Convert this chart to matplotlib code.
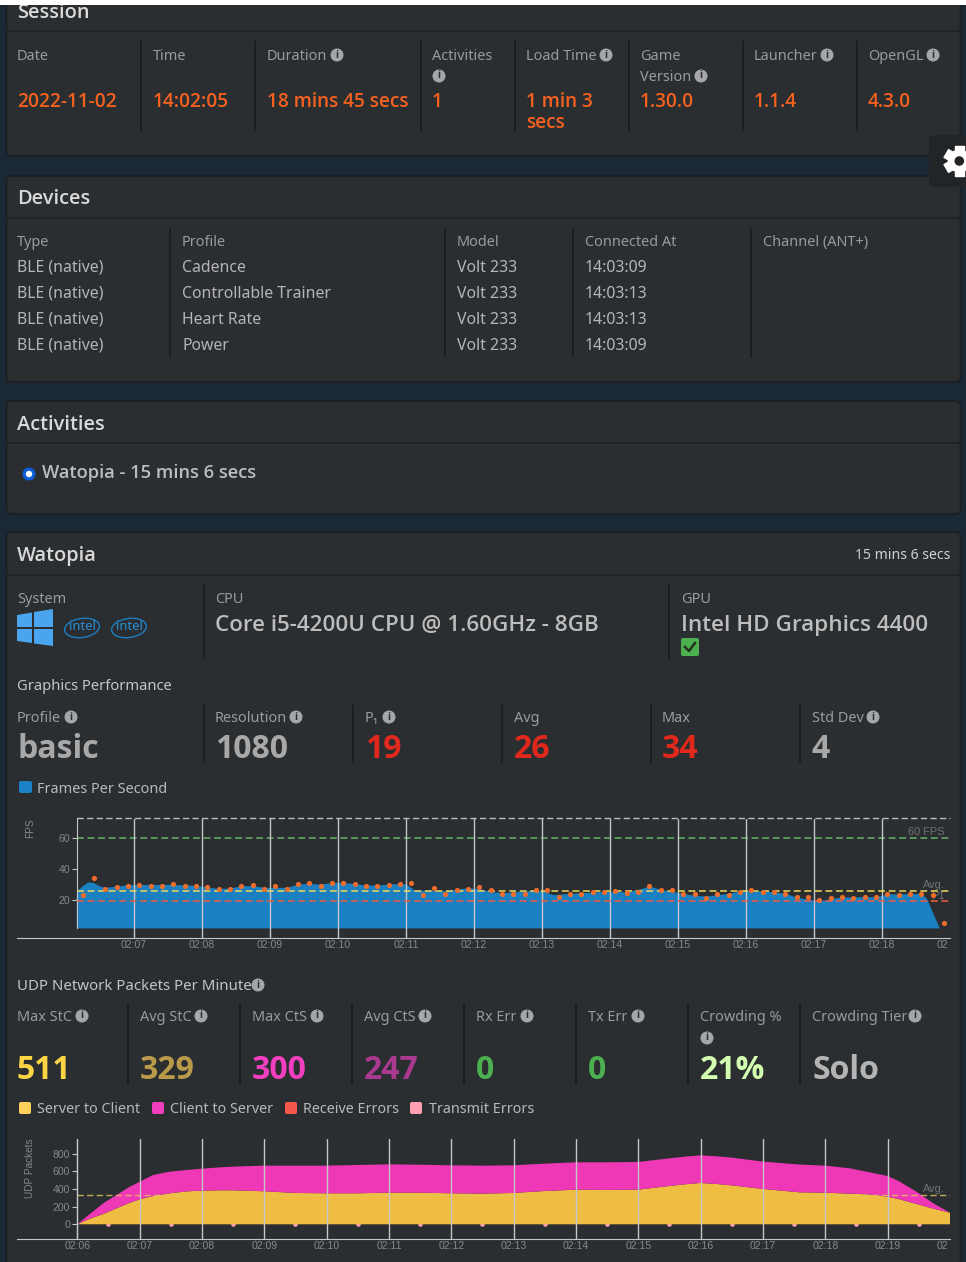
import matplotlib
matplotlib.use("Agg")
import numpy as np
from matplotlib import pyplot as plt
from matplotlib.patches import Rectangle, FancyBboxPatch, Circle, Polygon, Ellipse
from matplotlib.transforms import Bbox

plt.rcParams['font.family'] = ['Noto Sans', 'DejaVu Sans']

# ---- text of the page ----
session_labels = [["Date"], ["Time"], ["Duration"], ["Activities"], ["Load Time"], ["Game", "Version"], ["Launcher"], ["OpenGL"]]
session_values = [["2022-11-02"], ["14:02:05"], ["18 mins 45 secs"], ["1"], ["1 min 3", "secs"], ["1.30.0"], ["1.1.4"], ["4.3.0"]]

device_headers = ["Type", "Profile", "Model", "Connected At", "Channel (ANT+)"]
device_types = ["BLE (native)", "BLE (native)", "BLE (native)", "BLE (native)"]
device_profiles = ["Cadence", "Controllable Trainer", "Heart Rate", "Power"]
device_models = ["Volt 233", "Volt 233", "Volt 233", "Volt 233"]
device_times = ["14:03:09", "14:03:13", "14:03:13", "14:03:09"]

gfx_labels = ["Profile", "Resolution", "P₁", "Avg", "Max", "Std Dev"]
gfx_values = ["basic", "1080", "19", "26", "34", "4"]

udp_labels = ["Max StC", "Avg StC", "Max CtS", "Avg CtS", "Rx Err", "Tx Err", "Crowding %", "Crowding Tier"]
udp_values = ["511", "329", "300", "247", "0", "0", "21%", "Solo"]
udp_legend = ["Server to Client", "Client to Server", "Receive Errors", "Transmit Errors"]

# ---- FPS chart data (time in minutes after 02:00) ----
fps_area_min = [6.151, 6.245, 6.328, 6.407, 6.5, 6.574, 6.74, 6.907, 7.245, 7.578, 7.912, 8.078, 8.245, 8.412,
                8.578, 8.745, 8.912, 9.245, 9.412, 9.578, 9.745, 9.912, 10.078, 10.245, 10.412, 10.578, 10.745,
                10.912, 11.0, 11.132, 11.412, 11.578, 11.912, 12.078, 12.245, 12.412, 12.912, 13.005, 13.167,
                13.412, 13.912, 14.245, 14.412, 14.578, 14.745, 15.078, 15.245, 15.412, 15.745, 15.912, 16.245,
                16.578, 16.745, 17.078, 17.412, 17.912, 18.078, 18.578, 18.657, 18.842]
fps_area_val = [26.2, 29.7, 32.0, 31.4, 29.2, 28.4, 29.2, 30.1, 30.3, 30.3, 29.7, 28.6, 27.7, 28.0,
                29.5, 29.5, 28.4, 28.4, 30.5, 31.0, 30.5, 31.6, 31.6, 30.8, 29.9, 29.9, 30.5,
                31.0, 30.5, 26.5, 26.5, 26.2, 28.2, 27.5, 25.8, 24.9, 26.7, 26.2, 23.7,
                24.5, 25.8, 25.6, 27.1, 29.2, 27.1, 24.5, 23.2, 22.8, 24.5, 26.2, 26.2,
                24.7, 21.9, 19.8, 22.2, 22.4, 24.1, 24.5, 21.1, 2.2]
fps_area_floor = 2.2

# one sample every 10 seconds
fps_dot_start = 6.245
fps_dots = [23.4, 34.2, 27.3, 28.8, 29.2, 30.1, 29.2, 29.2, 30.3, 29.2, 29.2, 28.8, 27.3, 27.3, 29.2, 29.7,
            27.3, 29.2, 27.3, 30.3, 31.2, 29.2, 31.2, 31.2, 30.3, 29.2, 29.2, 29.9, 30.3, 31.2, 23.4, 27.7,
            24.3, 26.5, 27.3, 28.6, 26.5, 24.3, 24.3, 24.3, 26.5, 26.5, 22.4, 24.3, 24.3, 25.4, 25.4, 25.8,
            24.9, 25.4, 29.2, 26.5, 26.7, 24.3, 24.3, 21.3, 23.9, 23.4, 25.4, 26.5, 25.4, 25.4, 24.3, 22.4,
            22.4, 20.4, 21.3, 22.4, 21.3, 22.4, 22.4, 24.3, 23.4, 24.3, 24.3, 23.4, 5.4]
fps_avg = 26.2
fps_p1 = 19.4
fps_target = 60
fps_top = 72.9
fps_ticks = [20, 40, 60]
fps_minutes = [7, 8, 9, 10, 11, 12, 13, 14, 15, 16, 17, 18, 19]
fps_tick_labels = ["02:07", "02:08", "02:09", "02:10", "02:11", "02:12", "02:13", "02:14", "02:15", "02:16",
                   "02:17", "02:18", "02:19"]

# ---- UDP chart data ----
udp_minutes = [6, 6.204, 6.417, 6.631, 6.845, 7.005, 7.219, 7.487, 7.754, 8.005, 8.288,
               8.5, 9, 9.5, 10, 10.5, 11, 11.5, 12, 12.5, 13, 13.5, 14, 14.5, 15, 15.5,
               15.75, 16, 16.25, 16.5, 17,
               17.589, 18, 18.391, 18.658, 19, 19.193, 19.46, 19.73, 20]
server_to_client = [0, 64, 117, 181, 245, 283, 321, 351, 373, 381, 385,
                    385, 374, 355, 351, 351, 358, 358, 351, 347, 355, 377, 392, 389, 392, 434,
                    453, 468, 457, 441, 400,
                    362, 358, 347, 340, 313, 283, 230, 177, 132]
client_to_server = [0, 53, 121, 151, 181, 200, 238, 245, 242, 249, 260,
                    268, 290, 309, 313, 321, 321, 317, 317, 317, 313, 310, 310, 313, 314, 313,
                    313, 313, 313, 314, 310,
                    314, 306, 287, 256, 234, 200, 140, 61, 0]
err_minutes = [6.5, 7.5, 8.5, 9.5, 10.5, 11.5, 12.5, 13.5, 14.5, 15.5, 16.5, 17.5, 18.5, 19.5]
err_values = [0, 0, 0, 0, 0, 0, 0, 0, 0, 0, 0, 0, 0, 0]
udp_avg = 336
udp_ticks = [0, 200, 400, 600, 800]
udp_tick_minutes = [6, 7, 8, 9, 10, 11, 12, 13, 14, 15, 16, 17, 18, 19, 20]
udp_tick_labels = ["02:06", "02:07", "02:08", "02:09", "02:10", "02:11", "02:12", "02:13", "02:14", "02:15",
                   "02:16", "02:17", "02:18", "02:19", "02:20"]

# colours
PAGE = "#1b2836"
CARD = "#2b2e31"
EDGE = "#1c1e20"
LABEL = "#9a9a9a"
TEXT = "#bdbdbd"
TITLE = "#d9d9d9"
ORANGE = "#f4611e"
RED = "#e0281c"
GRID = "#c4c6c8"
TICKTXT = "#86888a"

W, H = 966, 1262
fig = plt.figure(figsize=(W / 100, H / 100), dpi=100, facecolor=PAGE)

# whole page in pixel coordinates
ui = fig.add_axes([0, 0, 1, 1])
ui.set_xlim(0, W)
ui.set_ylim(H, 0)
ui.axis("off")


def px(size):
    return size * 0.72


def label(x, y, s, size=14.5, color=LABEL, weight=400, ha="left"):
    # the variable Noto Sans only draws regular here, Open Sans has real heavy cuts
    fam = ['Open Sans', 'DejaVu Sans'] if weight >= 600 else ['Noto Sans', 'DejaVu Sans']
    return ui.text(x, y + size * 0.11, s, fontsize=px(size), color=color, fontweight=weight, ha=ha, va="center",
                   family=fam)


def info(x, y):
    ui.add_patch(Circle((x, y), 6.5, color="#a4a6a8", lw=0))
    ui.text(x, y, "i", fontsize=px(10), color=CARD, fontweight="bold", ha="center", va="center", family="Open Sans")


def card(y0, y1, title, title_y, line_y):
    ui.add_patch(FancyBboxPatch((6.5, y0), 954, y1 - y0, boxstyle="round,pad=0,rounding_size=5",
                                fc=CARD, ec=EDGE, lw=1.2))
    ui.plot([6.5, 960.5], [line_y, line_y], color="#1e2022", lw=1.2)
    label(17, title_y, title, size=20, color=TITLE, weight=600)


def seps(xs, y0, y1):
    for x in xs:
        ui.plot([x, x], [y0, y1], color="#1b1d1f", lw=1.3)


def gear(cx, cy):
    for a in np.radians([90, 30, 150]):
        dx, dy = np.cos(a), np.sin(a)
        nx, ny = -dy * 4.5, dx * 4.5
        pts = [(cx + dx * 15 + nx, cy + dy * 15 + ny), (cx + dx * 15 - nx, cy + dy * 15 - ny),
               (cx - dx * 15 - nx, cy - dy * 15 - ny), (cx - dx * 15 + nx, cy - dy * 15 + ny)]
        ui.add_patch(Polygon(pts, closed=True, fc="white", ec="white", lw=1, joinstyle="round", zorder=5))
    ui.add_patch(Circle((cx, cy), 11.5, fc="white", ec="none", zorder=5))
    ui.add_patch(Circle((cx, cy), 4.8, fc="#222528", ec="none", zorder=6))


# ---- Session ----
card(-20, 156, "Session", 11, 31)
session_x = [17, 153, 267, 432, 526, 640, 754, 868]
seps([141, 255, 421, 515, 629, 743, 857], 41, 130)
for x, labs, vals in zip(session_x, session_labels, session_values):
    for i, s in enumerate(labs):
        label(x, 55 + 21 * i, s)
    for i, s in enumerate(vals):
        label(x, 100 + 21 * i, s, size=19, color=ORANGE, weight=600)
info(337, 55)
info(439, 76)
info(606, 55)
info(701, 76)
info(827, 55)
info(933, 55)
ui.add_patch(Rectangle((0, 0), W, 4.5, color="white", lw=0, zorder=5))

# settings button on the right edge
ui.add_patch(FancyBboxPatch((929, 135), 60, 52, boxstyle="round,pad=0,rounding_size=6", fc="#222528", ec="none",
                            zorder=4))
gear(959.3, 161)

# ---- Devices ----
card(176, 382, "Devices", 197, 218)
device_x = [17, 182, 457, 585, 763]
seps([170, 445, 573, 751], 229, 357)
for x, s in zip(device_x, device_headers):
    label(x, 241, s)
device_rows = [266, 292, 318, 344]
for x, col in zip(device_x, [device_types, device_profiles, device_models, device_times]):
    for y, s in zip(device_rows, col):
        label(x, y, s, size=15.8, color="#b5b5b5")

# ---- Activities ----
card(401, 514, "Activities", 423, 443)
ui.add_patch(Circle((29, 474), 6.5, fc="#0b5ed7", ec="none"))
ui.add_patch(Circle((29, 474), 3.2, fc="white", ec="none"))
label(42, 471, "Watopia - 15 mins 6 secs", size=18.3, color=TEXT, weight=600)

# ---- Watopia ----
card(532, 1300, "Watopia", 554, 575)
label(950, 554, "15 mins 6 secs", size=14, color="#d0d0d0", ha="right")
label(17, 598, "System")
label(215, 598, "CPU")
label(681, 598, "GPU")
seps([204, 669], 585, 658)
label(215, 623, "Core i5-4200U CPU @ 1.60GHz - 8GB", size=22.4, color=TEXT, weight=600)
label(681, 623, "Intel HD Graphics 4400", size=22.5, color=TEXT, weight=600)
ui.add_patch(FancyBboxPatch((681, 638), 18, 18, boxstyle="round,pad=0,rounding_size=2", fc="#4caf50", ec="none"))
ui.plot([685, 689, 695], [647, 651, 643], color="#22301f", lw=1.8)

# windows logo and the two intel badges
for pts in ([(17, 615), (32, 612.5), (32, 627), (17, 627)], [(34, 612), (53, 609), (53, 627), (34, 627)],
            [(17, 629), (32, 629), (32, 643), (17, 641)], [(34, 629), (53, 629), (53, 646), (34, 643.5)]):
    ui.add_patch(Polygon(pts, closed=True, fc="#4aa5ee", ec="none"))
for cx in (82, 129):
    ui.add_patch(Ellipse((cx, 628), 35, 19, angle=-8, fc="none", ec="#1c7fc4", lw=1))
    ui.text(cx, 627, "intel", fontsize=px(13), color="#2b8fd6", ha="center", va="center")

label(17, 685, "Graphics Performance", size=14.8, color="#c4c4c4")
gfx_x = [17, 215, 365, 514, 662, 812]
gfx_colors = ["#a8a8a8", "#a8a8a8", RED, RED, RED, "#a8a8a8"]
seps([204, 353, 502, 651, 800], 705, 762)
for x, s, v, c in zip(gfx_x, gfx_labels, gfx_values, gfx_colors):
    label(x, 717, s)
    label(x, 746, v, size=32, color=c, weight=700)
info(71, 717)
info(296, 717)
info(389, 717)
info(873, 717)
ui.add_patch(FancyBboxPatch((19, 781), 13, 12, boxstyle="round,pad=0,rounding_size=2", fc="#1a82c4", ec="none"))
label(37, 788, "Frames Per Second", size=14.5, color="#b8b8b8")

label(17, 985, "UDP Network Packets Per Minute", size=15, color="#c4c4c4")
info(258, 985)
udp_x = [17, 140, 252, 364, 476, 588, 700, 812]
udp_colors = ["#fdd443", "#b89a4a", "#f23fc0", "#a93a90", "#4caf50", "#4caf50", "#d4ffb0", "#b4b4b4"]
seps([128, 240, 352, 464, 576, 688, 800], 1005, 1083)
for x, s, v, c in zip(udp_x, udp_labels, udp_values, udp_colors):
    label(x, 1016, s)
    label(x, 1067, v, size=32, color=c, weight=700)
for x in (82, 201, 317, 425, 527, 638, 915):
    info(x, 1016)
info(707, 1038)
legend_box_x = [19, 152, 285, 410]
legend_txt_x = [37, 170, 303, 429]
legend_cols = ["#fdd05a", "#f23fc0", "#f4574b", "#ff9fb0"]
for bx, tx, s, c in zip(legend_box_x, legend_txt_x, udp_legend, legend_cols):
    ui.add_patch(FancyBboxPatch((bx, 1102), 12, 12, boxstyle="round,pad=0,rounding_size=2", fc=c, ec="none"))
    label(tx, 1108, s, size=14.3, color="#b8b8b8")


def chart_axes(left, right, top, bottom):
    ax = fig.add_axes([left / W, 1 - bottom / H, (right - left) / W, (bottom - top) / H])
    ax.patch.set_alpha(0)
    for side in ("top", "right"):
        ax.spines[side].set_visible(False)
    ax.spines["bottom"].set_color(GRID)
    ax.spines["left"].set_color(GRID)
    ax.tick_params(axis="x", length=0, labelsize=px(10.5), labelcolor=TICKTXT, pad=1.5)
    ax.tick_params(axis="y", length=3.5, width=0.8, color=GRID, labelsize=px(10.5), labelcolor=TICKTXT, pad=1.5)
    ax.set_axisbelow(False)
    return ax


def finish_ticks(ax, ticks, labels, yticks):
    ax.set_xticks(ticks)
    ax.set_xticklabels(labels, family="Liberation Sans")
    ax.set_yticks(yticks)
    for t in ax.get_yticklabels():
        t.set_family("Liberation Sans")
    # last label is cut off at the edge of the plot
    for t in ax.get_xticklabels():
        t.set_clip_on(True)
        t.set_clip_box(Bbox([[0, 0], [947.5, H]]))
    ax.grid(axis="x", color=GRID, lw=1, zorder=2.5)
    ax.xaxis.get_gridlines()[-1].set_visible(False)


# ---- FPS chart ----
ax1 = chart_axes(17, 950, 818.5, 938.3)
ax1.set_xlim(5.279, 19.0)
ax1.set_ylim(-4.5, 72.9)
ax1.spines["left"].set_position(("data", 6.165))
ax1.spines["left"].set_bounds(fps_area_floor, fps_top)
ax1.fill_between(fps_area_min, fps_area_floor, fps_area_val, color="#1a80c2", lw=0, zorder=1)
dash = (0, (4.5, 2.4))
ax1.plot([6.165, 19], [fps_top, fps_top], color="#b8bcc0", lw=1, ls=dash, clip_on=False)
ax1.plot([6.165, 19], [fps_target, fps_target], color="#62b565", lw=1.1, ls=dash)
ax1.plot([6.165, 19], [fps_avg, fps_avg], color="#f0d85a", lw=1.1, ls=dash, zorder=3)
ax1.plot([6.165, 19], [fps_p1, fps_p1], color="#ee5a44", lw=1.1, ls=dash, zorder=3)
fps_dot_x = [fps_dot_start + i / 6 for i in range(len(fps_dots))]
ax1.scatter(fps_dot_x, fps_dots, s=14, color="#ee6c2c", lw=0, zorder=4, clip_on=False)
finish_ticks(ax1, fps_minutes, fps_tick_labels, fps_ticks)

ui.text(30, 828, "FPS", fontsize=px(10), color=TICKTXT, rotation=90, ha="center", va="center", family="Liberation Sans")
ui.text(945, 832, "60 FPS", fontsize=px(11), color="#707274", ha="right", va="center", family="Liberation Sans")
ui.text(945, 885, "Avg.", fontsize=px(11), color="#707274", ha="right", va="center", family="Liberation Sans")
ui.text(945, 896, "P1", fontsize=px(11), color="#707274", ha="right", va="center", family="Liberation Sans")

# ---- UDP chart ----
ax2 = chart_axes(17, 950, 1139, 1239.3)
ax2.set_xlim(5.033, 20)
ax2.set_ylim(-170, 966)
ax2.spines["left"].set_position(("data", 6))
ax2.scatter(err_minutes, err_values, s=11, color="#ffa0b4", lw=0, zorder=0.5)
ax2.stackplot(udp_minutes, server_to_client, client_to_server, colors=["#efbd42", "#ee38b6"], lw=0, zorder=1)
ax2.plot([6, 20], [udp_avg, udp_avg], color="#e6c95a", lw=1, ls=dash, alpha=0.8, zorder=2)
finish_ticks(ax2, udp_tick_minutes, udp_tick_labels, udp_ticks)

ui.text(30, 1168, "UDP Packets", fontsize=px(10), color=TICKTXT, rotation=90, ha="center", va="center",
        family="Liberation Sans")
ui.text(945, 1189, "Avg.", fontsize=px(11), color="#707274", ha="right", va="center", family="Liberation Sans")

fig.savefig("out.png", dpi=100, facecolor=PAGE)
